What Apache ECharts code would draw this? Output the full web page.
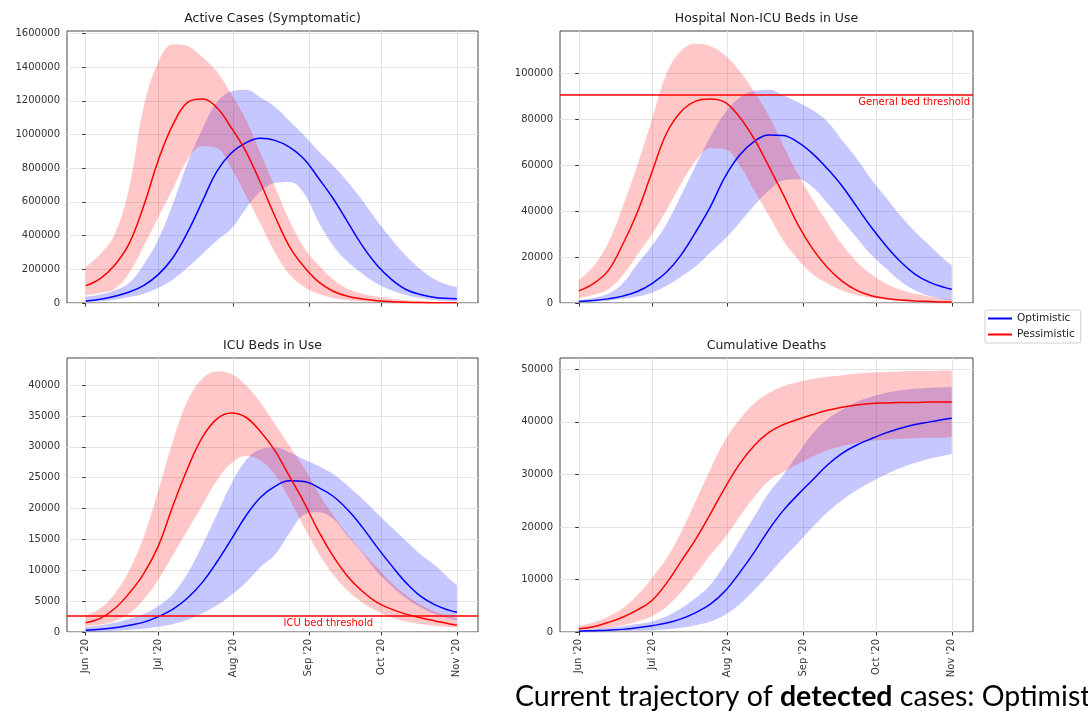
<!DOCTYPE html>
<html>
<head>
<meta charset="utf-8">
<title>Trajectories</title>
<script src="https://cdn.jsdelivr.net/npm/echarts/dist/echarts.min.js"></script>
<style>
  html, body { margin: 0; padding: 0; background: #fff; }
  #chart { width: 1088px; height: 711px; }
</style>
</head>
<body>
<div id="chart"></div>
<script>
  // days since 1 Jun 2020
  const days = [0, 6, 12, 18, 24, 30, 36, 42, 48, 54, 60, 66, 72, 78, 84, 90, 96, 102, 108, 114, 120, 126, 132, 138, 144, 150, 153]
  const xTickDays = [0, 30, 61, 92, 122, 153]
  const xTickLabels = ["Jun '20", "Jul '20", "Aug '20", "Sep '20", "Oct '20", "Nov '20"]

  // Active Cases (Symptomatic)
  const activeOptMid = [12000, 22000, 40000, 65000, 105000, 170000, 270000, 420000, 600000, 780000, 890000, 950000, 977000, 965000, 925000, 855000, 740000, 620000, 480000, 340000, 225000, 140000, 80000, 50000, 32000, 27000, 25000]
  const activeOptHigh = [37000, 50000, 75000, 120000, 230000, 380000, 590000, 830000, 1030000, 1190000, 1255000, 1265000, 1220000, 1165000, 1080000, 995000, 900000, 815000, 720000, 610000, 490000, 380000, 280000, 200000, 140000, 105000, 95000]
  const activeOptLow = [5000, 10000, 20000, 35000, 55000, 90000, 140000, 210000, 290000, 370000, 440000, 560000, 660000, 712000, 718000, 650000, 480000, 340000, 245000, 175000, 115000, 75000, 48000, 30000, 18000, 11000, 9000]
  const activePesMid = [103000, 145000, 225000, 355000, 580000, 850000, 1060000, 1190000, 1210000, 1160000, 1040000, 900000, 715000, 515000, 335000, 215000, 125000, 70000, 40000, 24000, 14000, 8000, 4500, 2800, 1800, 1200, 1000]
  const activePesHigh = [215000, 290000, 410000, 690000, 1170000, 1430000, 1535000, 1525000, 1460000, 1375000, 1240000, 1090000, 890000, 690000, 490000, 330000, 225000, 140000, 85000, 55000, 38000, 25000, 16000, 11000, 8000, 6000, 5000]
  const activePesLow = [47000, 60000, 85000, 180000, 340000, 510000, 680000, 850000, 930000, 920000, 800000, 640000, 470000, 300000, 170000, 95000, 55000, 30000, 17000, 10000, 6000, 4000, 2500, 1500, 1000, 700, 500]
  const activeTicks = [0, 200000, 400000, 600000, 800000, 1000000, 1200000, 1400000, 1600000]

  // Hospital Non-ICU Beds in Use
  const hospOptMid = [700, 1100, 1800, 3000, 5000, 8500, 13500, 21000, 31000, 42000, 55000, 64500, 70500, 73300, 73000, 70000, 65000, 58500, 51000, 42000, 33000, 25000, 18000, 12500, 9000, 6800, 6000]
  const hospOptHigh = [1300, 2200, 4000, 8500, 17000, 25000, 34500, 47000, 60000, 72500, 83000, 89500, 92500, 93000, 90500, 87500, 84000, 79000, 71000, 63000, 54000, 46000, 38000, 31000, 25000, 19000, 16500]
  const hospOptLow = [300, 600, 1000, 1800, 2800, 4500, 7500, 11500, 16000, 22000, 28000, 35000, 42500, 49000, 53500, 54000, 50500, 43500, 36000, 28500, 21000, 15000, 9500, 5500, 3000, 1500, 1000]
  const hospPesMid = [5300, 8500, 14000, 25500, 39500, 57000, 74000, 83500, 88000, 89000, 87500, 81000, 71500, 59500, 47000, 34000, 23500, 15500, 9500, 5500, 3200, 2000, 1300, 900, 600, 400, 400]
  const hospPesHigh = [10000, 16000, 26000, 42000, 60000, 80000, 100000, 110000, 113000, 112000, 108000, 101000, 92000, 81500, 68500, 56000, 45000, 35000, 25500, 18000, 12500, 8500, 5800, 4000, 2800, 1800, 1500]
  const hospPesLow = [2200, 3500, 6000, 12000, 21000, 30000, 40500, 52000, 62000, 67500, 67000, 60000, 49000, 38000, 27000, 19000, 12500, 8500, 5500, 3500, 2300, 1500, 1000, 700, 500, 300, 300]
  const hospTicks = [0, 20000, 40000, 60000, 80000, 100000]
  const hospThreshold = 91000

  // ICU Beds in Use
  const icuOptMid = [300, 450, 700, 1100, 1600, 2500, 3700, 5500, 8000, 11300, 15000, 18800, 21800, 23600, 24500, 24400, 23400, 22000, 19800, 17000, 13800, 10800, 8000, 5800, 4400, 3500, 3200]
  const icuOptHigh = [800, 1100, 1500, 2100, 2900, 4200, 6200, 9500, 14000, 19000, 24000, 27800, 29600, 29900, 29100, 28000, 26900, 25600, 23700, 21600, 19300, 17000, 14800, 12600, 10800, 8600, 7600]
  const icuOptLow = [50, 100, 200, 350, 550, 850, 1300, 2000, 3000, 4300, 6000, 8000, 10500, 12500, 16000, 19000, 19400, 18300, 15500, 12800, 9800, 7500, 5500, 4000, 2900, 2200, 1900]
  const icuPesMid = [1500, 2200, 3800, 6300, 9500, 14000, 20500, 26500, 31500, 34500, 35500, 34800, 32500, 29400, 25200, 21000, 16300, 12300, 9000, 6600, 4800, 3700, 2900, 2300, 1800, 1300, 1100]
  const icuPesHigh = [2700, 3800, 6200, 10000, 15500, 23000, 31000, 37500, 41000, 42200, 41800, 40000, 37200, 33700, 30200, 26600, 22500, 19000, 15800, 13000, 10500, 8000, 6000, 4400, 3300, 2500, 2200]
  const icuPesLow = [900, 1200, 1800, 3000, 5300, 8500, 12500, 16500, 20500, 24500, 27300, 28500, 27800, 25500, 21500, 17000, 12800, 9300, 6700, 4800, 3400, 2400, 1700, 1300, 1000, 800, 700]
  const icuTicks = [0, 5000, 10000, 15000, 20000, 25000, 30000, 35000, 40000]
  const icuThreshold = 2600
  const icuLabelDay = 100

  // Cumulative Deaths
  const deathOptMid = [150, 250, 350, 500, 800, 1200, 1700, 2500, 3700, 5300, 7800, 11300, 15200, 19500, 23200, 26200, 29000, 31800, 34000, 35600, 36800, 37900, 38800, 39500, 40000, 40500, 40700]
  const deathOptHigh = [300, 500, 800, 1100, 1500, 2000, 3000, 4500, 6500, 9000, 13000, 17500, 22000, 26500, 30000, 34000, 37800, 40500, 42300, 43800, 44800, 45500, 46000, 46300, 46500, 46600, 46700]
  const deathOptLow = [50, 80, 120, 180, 250, 350, 500, 800, 1300, 2000, 3300, 5300, 8000, 11000, 14100, 17000, 20000, 22800, 25100, 27000, 28600, 30000, 31200, 32200, 33000, 33600, 33900]
  const deathPesMid = [600, 1000, 1800, 2800, 4200, 6000, 9300, 13500, 17700, 22500, 27500, 32000, 35500, 38000, 39500, 40500, 41400, 42200, 42800, 43200, 43500, 43600, 43700, 43700, 43800, 43800, 43800]
  const deathPesHigh = [1200, 1800, 2900, 4500, 7000, 10300, 14000, 19000, 25000, 31000, 36500, 40500, 43500, 45500, 46800, 47600, 48200, 48600, 48900, 49200, 49400, 49500, 49600, 49700, 49700, 49800, 49800]
  const deathPesLow = [300, 500, 800, 1300, 2000, 3000, 4800, 7600, 11000, 14700, 18000, 22000, 25700, 28800, 30500, 32000, 33400, 34600, 35400, 36000, 36400, 36600, 36800, 36900, 37000, 37000, 37100]
  const deathTicks = [0, 10000, 20000, 30000, 40000, 50000]

  const FONT = 'DejaVu Sans'
  const BLUE = '#0000ff'
  const RED = '#ff0000'

  const panels = [
    { title: 'Active Cases (Symptomatic)', opt: [activeOptLow, activeOptMid, activeOptHigh], pes: [activePesLow, activePesMid, activePesHigh], ticks: activeTicks, max: 1614000, grid: { left: 67, top: 31, width: 411, height: 272 } },
    { title: 'Hospital Non-ICU Beds in Use', opt: [hospOptLow, hospOptMid, hospOptHigh], pes: [hospPesLow, hospPesMid, hospPesHigh], ticks: hospTicks, max: 118600, grid: { left: 560, top: 31, width: 413, height: 272 } },
    { title: 'ICU Beds in Use', opt: [icuOptLow, icuOptMid, icuOptHigh], pes: [icuPesLow, icuPesMid, icuPesHigh], ticks: icuTicks, max: 44400, grid: { left: 67, top: 358, width: 411, height: 274 } },
    { title: 'Cumulative Deaths', opt: [deathOptLow, deathOptMid, deathOptHigh], pes: [deathPesLow, deathPesMid, deathPesHigh], ticks: deathTicks, max: 52160, grid: { left: 560, top: 358, width: 413, height: 274 } }
  ]

  function pairs(vals) {
    return days.map((d, i) => [d, vals[i]])
  }
  // value first, so that the stack is done on the y values
  function bandPairs(vals) {
    return days.map((d, i) => [vals[i], d])
  }
  function spread(hi, lo) {
    return hi.map((v, i) => v - lo[i])
  }

  function band(k, key, lo, hi, color) {
    let base = {
      type: 'line', xAxisIndex: k, yAxisIndex: k, stack: 'band' + k + key,
      encode: { x: 1, y: 0 },
      smooth: 0.4, symbol: 'none', silent: true, z: 1,
      lineStyle: { width: 0, opacity: 0 }
    }
    return [
      Object.assign({}, base, { name: key + ' low ' + k, data: bandPairs(lo) }),
      Object.assign({}, base, { name: key + ' range ' + k, data: bandPairs(spread(hi, lo)), areaStyle: { color: color, opacity: 1 } })
    ]
  }

  let grids = [], xAxes = [], yAxes = [], series = [], texts = []

  panels.forEach((p, k) => {
    grids.push(Object.assign({ show: true, borderColor: '#444', borderWidth: 1, backgroundColor: 'transparent' }, p.grid))
    xAxes.push({
      type: 'value', gridIndex: k, min: -7.7, max: 161.7,
      axisLine: { show: false },
      axisTick: { show: true, customValues: xTickDays, length: 3.5, lineStyle: { color: '#333' } },
      axisLabel: {
        show: k >= 2, customValues: xTickDays, rotate: 90, margin: 7,
        fontSize: 10, fontFamily: FONT, color: '#333',
        formatter: v => xTickLabels[xTickDays.indexOf(v)]
      },
      splitLine: { show: true, lineStyle: { color: '#e4e4e4', width: 1 } }
    })
    yAxes.push({
      type: 'value', gridIndex: k, min: 0, max: p.max,
      axisLine: { show: false },
      axisTick: { show: true, customValues: p.ticks, length: 3.5, lineStyle: { color: '#333' } },
      axisLabel: { customValues: p.ticks, margin: 7, fontSize: 10, fontFamily: FONT, color: '#333', formatter: v => String(v) },
      splitLine: { show: true, lineStyle: { color: '#e4e4e4', width: 1 } }
    })

    series.push(...band(k, 'opt', p.opt[0], p.opt[2], 'rgba(0,0,255,0.22)'))
    series.push(...band(k, 'pes', p.pes[0], p.pes[2], 'rgba(255,0,0,0.22)'))

    series.push({
      name: 'Optimistic', type: 'line', xAxisIndex: k, yAxisIndex: k, z: 3,
      data: pairs(p.opt[1]), smooth: 0.4, symbol: 'none',
      itemStyle: { color: BLUE }, lineStyle: { color: BLUE, width: 1.5 }
    })
    let pes = {
      name: 'Pessimistic', type: 'line', xAxisIndex: k, yAxisIndex: k, z: 3,
      data: pairs(p.pes[1]), smooth: 0.4, symbol: 'none',
      itemStyle: { color: RED }, lineStyle: { color: RED, width: 1.5 }
    }
    if (k === 1) {
      pes.markLine = {
        symbol: 'none', silent: true, animation: false,
        lineStyle: { color: RED, width: 1.5, type: 'solid' },
        label: { show: true, position: 'insideEndBottom', distance: 3, formatter: 'General bed threshold', color: RED, fontSize: 10, fontFamily: FONT },
        data: [{ yAxis: hospThreshold }]
      }
    }
    if (k === 2) {
      pes.markLine = {
        symbol: 'none', silent: true, animation: false,
        lineStyle: { color: RED, width: 1.5, type: 'solid' },
        label: { show: false },
        data: [{ yAxis: icuThreshold }]
      }
      pes.markPoint = {
        symbol: 'circle', symbolSize: 1, silent: true, animation: false,
        itemStyle: { color: 'transparent' },
        label: { show: true, position: 'bottom', distance: 2, formatter: 'ICU bed threshold', color: RED, fontSize: 10, fontFamily: FONT },
        data: [{ coord: [icuLabelDay, icuThreshold] }]
      }
    }
    series.push(pes)

    texts.push({
      type: 'text', x: p.grid.left + p.grid.width / 2, y: p.grid.top - 12,
      style: { text: p.title, align: 'center', verticalAlign: 'middle', fontSize: 12.5, fontFamily: FONT, fill: '#222' }
    })
  })

  texts.push({
    type: 'text', x: 515, y: 697,
    style: {
      text: '{n|Current trajectory of }{b|detected}{n| cases: Optimistic}',
      verticalAlign: 'middle',
      rich: {
        n: { fontSize: 28.5, fontFamily: 'Lato', color: '#000' },
        b: { fontSize: 28.5, fontFamily: 'Lato', fontWeight: 'bold', color: '#000' }
      }
    }
  })

  let myChart = echarts.init(document.getElementById('chart'))
  let option = {
    animation: false,
    backgroundColor: '#fff',
    grid: grids,
    xAxis: xAxes,
    yAxis: yAxes,
    legend: {
      data: ['Optimistic', 'Pessimistic'],
      orient: 'vertical', left: 985, top: 310,
      icon: 'rect', itemWidth: 24, itemHeight: 2, itemGap: 5,
      padding: [3, 6, 3, 3],
      borderColor: '#d0d0d0', borderWidth: 1, borderRadius: 2,
      textStyle: { fontSize: 10.5, fontFamily: FONT, color: '#222' }
    },
    series: series,
    graphic: texts
  }
  myChart.setOption(option)
</script>
</body>
</html>
